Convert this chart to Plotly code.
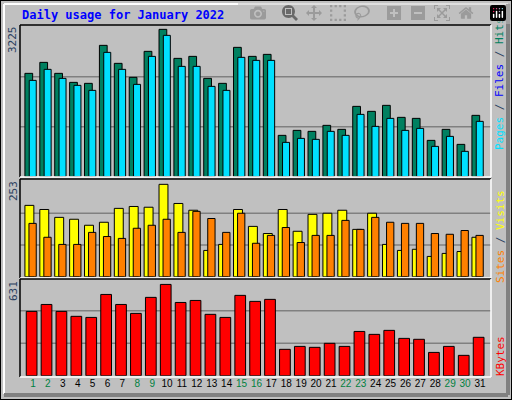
import plotly.graph_objects as go

# %% data

days = list(range(1, 32))
weekend = [1, 2, 8, 9, 15, 16, 22, 23, 29, 30]

hits = [2222, 2458, 2222, 2028, 2007, 2824, 2437, 2136, 2695, 3168, 2544, 2587,
        2114, 2007, 2781, 2587, 2630, 889, 996, 975, 1104, 1018, 1512, 1405,
        1534, 1276, 1254, 781, 1018, 695, 1319]
files = [2071, 2308, 2114, 1964, 1856, 2673, 2308, 1985, 2587, 3039, 2372, 2372,
         1942, 1856, 2566, 2501, 2501, 738, 824, 803, 975, 889, 1340, 1082,
         1254, 996, 1039, 652, 867, 545, 1190]
sites = [190, 179, 158, 153, 137, 145, 182, 187, 185, 246, 195, 177,
         70, 86, 179, 134, 115, 179, 121, 166, 169, 177, 126, 169,
         86, 70, 73, 54, 62, 67, 105]
visits = [142, 105, 86, 86, 118, 107, 102, 129, 137, 153, 118, 174,
          155, 118, 169, 89, 110, 131, 91, 110, 110, 150, 126, 158,
          145, 142, 142, 115, 113, 123, 110]
kbytes = [417, 462, 417, 385, 378, 527, 462, 404, 508, 592, 475, 488,
          398, 378, 521, 482, 495, 171, 190, 184, 210, 190, 287, 268,
          294, 242, 236, 151, 190, 132, 249]

max_hits, max_sites, max_kb = 3225, 253, 631
title = "Daily usage for January 2022"

# %% figure

W, H = 512, 400
BG = "#C0C0C0"
MONO = "DejaVu Sans Mono"


def py(px):
    # pixel row -> paper fraction
    return 1 - px / H


def bar(y, color, offset, width, axis):
    return go.Bar(x=days, y=y, offset=offset, width=width, marker_color=color,
                  marker_line=dict(color="black", width=1), xaxis="x", yaxis=axis,
                  showlegend=False, hoverinfo="skip")


fig = go.Figure()
fig.add_trace(bar(hits, "#008060", -0.54, 0.52, "y"))
fig.add_trace(bar(files, "#00E0FF", -0.25, 0.47, "y"))
fig.add_trace(bar(sites, "#FFFF00", -0.54, 0.6, "y2"))
fig.add_trace(bar(visits, "#FF8000", -0.27, 0.49, "y2"))
fig.add_trace(bar(kbytes, "#FF0000", -0.45, 0.72, "y3"))

ticktext = [f"<span style='color:{'#008040' if d in weekend else 'black'}'>{d}</span>"
            for d in days]

yax = dict(showticklabels=False, showgrid=False, zeroline=False, fixedrange=True)
fig.update_layout(
    width=W, height=H, margin=dict(l=0, r=0, t=0, b=0),
    paper_bgcolor=BG, plot_bgcolor=BG, barmode="overlay",
    xaxis=dict(domain=[20 / W, 491 / W], range=[0.13, 31.74], tickvals=days,
               ticktext=ticktext, tickangle=0, showgrid=False, zeroline=False,
               ticks="", tickfont=dict(family="Liberation Sans Narrow, Liberation Sans", size=10),
               anchor="y3", automargin=False),
    yaxis=dict(domain=[py(176.7), py(26.7)], range=[0, max_hits], **yax),
    yaxis2=dict(domain=[py(276.7), py(181.7)], range=[0, max_sites], **yax),
    yaxis3=dict(domain=[py(375.7), py(278.4)], range=[0, max_kb], **yax),
)

# gridlines at thirds
for axis, top in (("y", max_hits), ("y2", max_sites), ("y3", max_kb)):
    for f in (1 / 3, 2 / 3):
        fig.add_shape(type="line", xref="x domain", yref=axis, x0=0, x1=1,
                      y0=top * f, y1=top * f, line=dict(color="#808080", width=1.5),
                      layer="below")

# panel frames (black top/left, white bottom/right)
for top, bot in ((25, 177), (179, 278), (279, 377)):
    x0, x1 = 20 / W, 491 / W
    fig.add_shape(type="line", xref="paper", yref="paper", x0=x0, x1=x1,
                  y0=py(top), y1=py(top), line=dict(color="black", width=1.5))
    fig.add_shape(type="line", xref="paper", yref="paper", x0=x0, x1=x0,
                  y0=py(top), y1=py(bot), line=dict(color="black", width=1.5))
    fig.add_shape(type="line", xref="paper", yref="paper", x0=x0, x1=x1,
                  y0=py(bot), y1=py(bot), line=dict(color="white", width=1.5))
    fig.add_shape(type="line", xref="paper", yref="paper", x0=x1, x1=x1,
                  y0=py(top), y1=py(bot), line=dict(color="white", width=1.5))

# outer bevel
fig.add_shape(type="rect", xref="paper", yref="paper", x0=0, x1=1, y0=0, y1=1,
              line=dict(color="black", width=2))
fig.add_shape(type="line", xref="paper", yref="paper", x0=4 / W, x1=4 / W,
              y0=py(4), y1=py(394), line=dict(color="white", width=2))
fig.add_shape(type="line", xref="paper", yref="paper", x0=4 / W, x1=508 / W,
              y0=py(4), y1=py(4), line=dict(color="white", width=2))
fig.add_shape(type="line", xref="paper", yref="paper", x0=508 / W, x1=508 / W,
              y0=py(4), y1=py(395), line=dict(color="#808080", width=4))
fig.add_shape(type="line", xref="paper", yref="paper", x0=4 / W, x1=508 / W,
              y0=py(395), y1=py(395), line=dict(color="#808080", width=4))

ann = dict(xref="paper", yref="paper", showarrow=False, font=dict(family=MONO, size=11))
fig.add_annotation(text=f"<b>{title}</b>", x=20 / W, y=py(15), xanchor="left",
                   yanchor="middle", **{**ann, "font": dict(family=MONO, size=12, color="#0000FF")})
for val, ymid in ((max_hits, 40), (max_sites, 191), (max_kb, 291)):
    fig.add_annotation(text=str(val), x=13 / W, y=py(ymid), xanchor="center",
                       yanchor="middle", textangle=-90, **ann)

labels = [
    ("<span style='color:#00E0FF'>Pages</span> / <span style='color:#0000FF'>Files</span>"
     " / <span style='color:#008060'>Hits</span>", 84),
    ("<span style='color:#FF8000'>Sites</span> / <span style='color:#FFFF00'>Visits</span>", 237),
    ("<span style='color:#FF0000'>KBytes</span>", 356),
]
for text, ymid in labels:
    fig.add_annotation(text=text, x=500 / W, y=py(ymid), xanchor="center",
                       yanchor="middle", textangle=-90, **ann)

fig.write_html("out.html", post_script="document.body.style.margin='0';")
